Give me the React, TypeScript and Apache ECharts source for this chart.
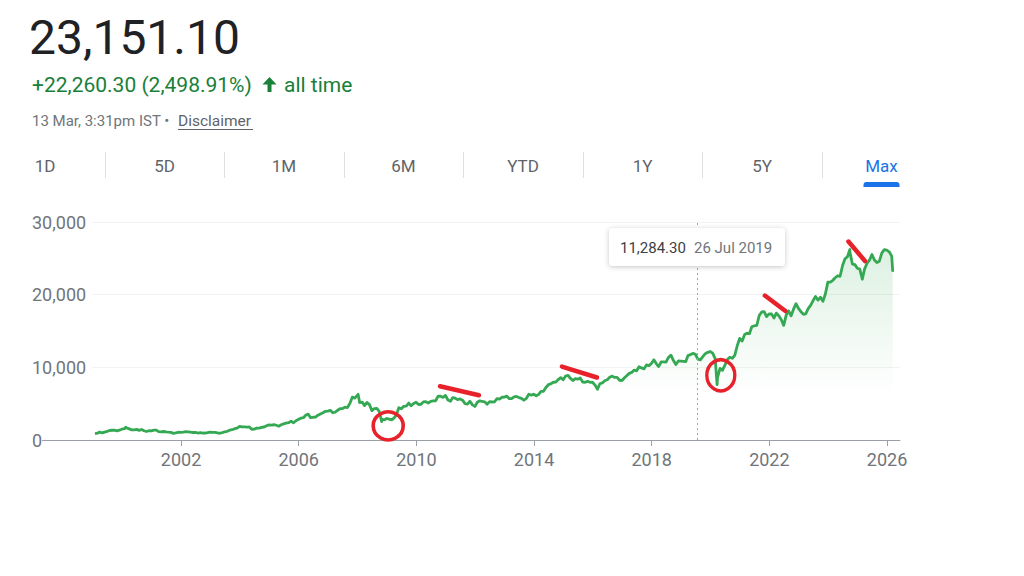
import React, { useEffect, useRef } from "react";
import * as echarts from "echarts";

// ---------- texts ----------
const headerPrice = "23,151.10";
const headerChange = "+22,260.30 (2,498.91%)";
const headerPeriod = "all time";
const headerStamp = "13 Mar, 3:31pm IST •";
const headerLink = "Disclaimer";
const rangeTabs = ["1D", "5D", "1M", "6M", "YTD", "1Y", "5Y", "Max"];
const activeTab = "Max";

// ---------- data (month-end closes, Jan 1999 .. Feb 2026) ----------
const firstYear = 1999;
const monthlyClose = [
  891, 950, 1080, 980, 1090, 1190, 1310, 1340, 1350, 1260, 1370, 1480, // 1999
  1550, 1650, 1530, 1400, 1380, 1470, 1330, 1450, 1270, 1170, 1270, 1260, // 2000
  1370, 1350, 1150, 1120, 1170, 1110, 1070, 1050, 910, 970, 1070, 1060, // 2001
  1080, 1140, 1130, 1080, 1030, 1060, 960, 1010, 960, 950, 1020, 1090, // 2002
  1040, 1060, 980, 930, 1010, 1130, 1190, 1350, 1420, 1550, 1620, 1880, // 2003
  1810, 1800, 1770, 1800, 1480, 1500, 1630, 1630, 1740, 1790, 1960, 2080, // 2004
  2060, 2100, 2030, 1900, 2090, 2220, 2310, 2380, 2600, 2370, 2650, 2840, // 2005
  3000, 3070, 3400, 3560, 3070, 3130, 3140, 3410, 3590, 3740, 3950, 3970, // 2006
  4080, 3750, 3820, 4090, 4300, 4320, 4530, 4460, 5020, 5900, 5760, 6140, // 2007
  5140, 5220, 4730, 5170, 4870, 4040, 4330, 4360, 3920, 2890, 2760, 2960, // 2008
  2870, 2760, 3020, 3470, 4450, 4290, 4640, 4660, 5080, 4710, 5030, 5200, // 2009
  4880, 4920, 5250, 5280, 5090, 5310, 5370, 5400, 6030, 6020, 5860, 6130, // 2010
  5500, 5330, 5830, 5750, 5560, 5650, 5480, 5000, 4940, 5330, 4830, 4620, // 2011
  5200, 5390, 5300, 5250, 4920, 5280, 5230, 5260, 5700, 5620, 5880, 5900, // 2012
  6030, 5690, 5680, 5930, 5990, 5840, 5740, 5470, 5740, 6300, 6180, 6300, // 2013
  6090, 6280, 6700, 6700, 7230, 7610, 7720, 7950, 7960, 8320, 8590, 8280, // 2014
  8810, 8900, 8490, 8180, 8430, 8370, 8530, 7970, 7950, 8070, 7940, 7950, // 2015
  7560, 6990, 7740, 7850, 8160, 8290, 8640, 8790, 8610, 8630, 8220, 8190, // 2016
  8560, 8880, 9170, 9300, 9620, 9520, 10080, 9920, 9790, 10340, 10230, 10530, // 2017
  11030, 10490, 10110, 10740, 10740, 10710, 11360, 11680, 10930, 10390, 10880, 10860, // 2018
  10830, 10790, 11620, 11750, 11920, 11790, 11120, 11020, 11470, 11880, 12060, 12170, // 2019
  11960, 11200, 8600, 9860, 9580, 10300, 11070, 11390, 11250, 11640, 12970, 13980, // 2020
  13630, 14530, 14690, 14630, 15580, 15720, 15760, 17130, 17620, 17670, 16980, 17350, // 2021
  17340, 16790, 17460, 17100, 16580, 15780, 17160, 17760, 17090, 18010, 18760, 18110, // 2022
  17660, 17300, 17360, 18070, 18530, 19190, 19750, 19250, 19640, 19080, 20130, 21730, // 2023
  21730, 21980, 22330, 22600, 22530, 24010, 24950, 25240, 25810, 24210, 24130, 23640, // 2024
  23510, 22120, 23520, 24330, 24750, 25520, 24770, 24430, 24610, 25720, 26200, 26130, // 2025
  25900, 25300, // 2026
];
const finalDate = "2026-03-13";
const finalClose = 23151.1;
const extremeDates = ["2000-02-14", "2008-01-08", "2008-10-27", "2020-03-23", "2024-09-27"];
const extremeValues = [1760, 6290, 2520, 7610, 26220];

// ---------- axes ----------
const yMin = 0;
const yMax = 30000;
const yStep = 10000;
const xTickYears = [2002, 2006, 2010, 2014, 2018, 2022, 2026];
const axisStart = "1998-12-22";
const axisEnd = "2026-06-11";

// ---------- hover read-out ----------
const hoverDate = "2019-07-26";
const hoverValueText = "11,284.30";
const hoverDateText = "26 Jul 2019";

// ---------- red hand-drawn annotations (data coordinates) ----------
const strokeStartDates = ["2010-10-21", "2014-12-13", "2021-11-06", "2024-09-09"];
const strokeStartValues = [7390, 10110, 19880, 27310];
const strokeEndDates = ["2012-02-17", "2016-02-21", "2022-07-19", "2025-04-02"];
const strokeEndValues = [6165, 8600, 17750, 24630];
const circleDates = ["2009-01-16", "2020-05-08"];
const circleValues = [1950, 8900];

const toTime = (s: string) => {
  const [y, m, d] = s.split("-").map(Number);
  return +new Date(y, m - 1, d);
};

const FONT = "Roboto, 'Noto Sans', sans-serif";
const RED = "#e8222b";
const GREEN = "#34a853";

export default function App() {
  const ref = useRef<HTMLDivElement>(null);

  useEffect(() => {
    if (!ref.current) return;
    const chart = echarts.init(ref.current, null, { renderer: "svg" });

    const points: [number, number][] = monthlyClose.map((v, i) => {
      const y = firstYear + Math.floor(i / 12);
      const m = (i % 12) + 1;
      return [toTime(`${y}-${String(m).padStart(2, "0")}-28`), v];
    });
    extremeDates.forEach((d, i) => points.push([toTime(d), extremeValues[i]]));
    points.push([toTime(finalDate), finalClose]);
    points.sort((a, b) => a[0] - b[0]);

    const xTickValues = xTickYears.map((y) => +new Date(y, 0, 1));

    const gridLeft = 92;
    const gridRight = 900;
    const gridTop = 222;
    const gridBottom = 440;

    const tabStart = 45;
    const tabGap = 119.5;

    const graphic: any[] = [
      {
        type: "text", x: 29, y: 37, z: 100,
        style: { text: headerPrice, font: `400 48px ${FONT}`, fill: "#202124", verticalAlign: "middle" },
      },
      {
        type: "text", x: 32, y: 85, z: 100,
        style: { text: headerChange, font: `400 21px ${FONT}`, fill: "#188038", verticalAlign: "middle" },
      },
      {
        type: "polygon", z: 100,
        shape: { points: [[269.5, 77], [262.5, 84.5], [267.5, 84.5], [267.5, 92], [271.5, 92], [271.5, 84.5], [276.5, 84.5]] },
        style: { fill: "#188038" },
      },
      {
        type: "text", x: 284, y: 85, z: 100,
        style: { text: headerPeriod, font: `400 21px ${FONT}`, fill: "#188038", verticalAlign: "middle" },
      },
      {
        type: "text", x: 32, y: 121, z: 100,
        style: { text: headerStamp, font: `400 15px ${FONT}`, fill: "#70757a", verticalAlign: "middle" },
      },
      {
        type: "text", x: 178, y: 121, z: 100,
        style: { text: headerLink, font: `400 15.5px ${FONT}`, fill: "#5f6368", verticalAlign: "middle" },
      },
      {
        type: "line", z: 100,
        shape: { x1: 178, y1: 129.5, x2: 253, y2: 129.5 },
        style: { stroke: "#5f6368", lineWidth: 1 },
      },
      {
        type: "line", z: 100,
        shape: { x1: 42, y1: gridBottom + 0.5, x2: gridLeft, y2: gridBottom + 0.5 },
        style: { stroke: "#9aa0a6", lineWidth: 1 },
      },
    ];

    rangeTabs.forEach((t, i) => {
      const cx = tabStart + i * tabGap;
      const active = t === activeTab;
      graphic.push({
        type: "text", x: cx, y: 166, z: 100,
        style: {
          text: t, font: `400 17px ${FONT}`, fill: active ? "#1a73e8" : "#5f6368",
          align: "center", verticalAlign: "middle",
        },
      });
      if (i > 0) {
        const sx = Math.round(cx - tabGap / 2) + 0.5;
        graphic.push({
          type: "line", z: 100,
          shape: { x1: sx, y1: 152, x2: sx, y2: 178 },
          style: { stroke: "#e0e0e0", lineWidth: 1 },
        });
      }
      if (active) {
        graphic.push({
          type: "rect", z: 100,
          shape: { x: cx - 18, y: 182, width: 36, height: 5, r: [3, 3, 0, 0] },
          style: { fill: "#1a73e8" },
        });
      }
    });

    graphic.push({
      type: "group", z: 200,
      children: [
        {
          type: "rect", z: 200,
          shape: { x: 609, y: 228, width: 176, height: 38, r: 4 },
          style: { fill: "#ffffff", shadowBlur: 5, shadowOffsetY: 1, shadowColor: "rgba(60,64,67,0.3)" },
        },
        {
          type: "text", x: 620, y: 247.5, z: 201,
          style: { text: hoverValueText, font: `400 15px ${FONT}`, fill: "#3c4043", verticalAlign: "middle" },
        },
        {
          type: "text", x: 694, y: 247.5, z: 201,
          style: { text: hoverDateText, font: `400 15px ${FONT}`, fill: "#70757a", verticalAlign: "middle" },
        },
      ],
    });

    const option: any = {
      animation: false,
      backgroundColor: "#ffffff",
      grid: { left: gridLeft, right: 1024 - gridRight, top: gridTop, bottom: 576 - gridBottom, containLabel: false },
      xAxis: {
        type: "value",
        min: toTime(axisStart),
        max: toTime(axisEnd),
        axisLine: { show: true, onZero: false, lineStyle: { color: "#9aa0a6", width: 1 } },
        axisTick: { show: true, customValues: xTickValues, length: 6, lineStyle: { color: "#9aa0a6", width: 1 } },
        axisLabel: {
          customValues: xTickValues,
          formatter: (v: number) => String(new Date(v).getFullYear()),
          color: "#70757a", fontSize: 18, fontFamily: FONT, margin: 10,
        },
        splitLine: { show: false },
      },
      yAxis: {
        type: "value",
        min: yMin, max: yMax, interval: yStep,
        axisLine: { show: false },
        axisTick: { show: false },
        axisLabel: {
          align: "left", margin: 60,
          formatter: (v: number) => v.toLocaleString("en-US"),
          color: "#70757a", fontSize: 18, fontFamily: FONT,
        },
        splitLine: { show: true, lineStyle: { color: "#f1f3f4", width: 1 } },
      },
      graphic,
      series: [
        {
          type: "line",
          data: points,
          showSymbol: false,
          symbol: "none",
          z: 3,
          lineStyle: { color: GREEN, width: 2.8, join: "round" },
          itemStyle: { color: GREEN },
          areaStyle: {
            origin: "start",
            color: new echarts.graphic.LinearGradient(0, gridTop, 0, 396, [
              { offset: 0, color: "rgba(52,168,83,0.28)" },
              { offset: 1, color: "rgba(52,168,83,0)" },
            ], true),
          },
          markLine: {
            silent: true,
            symbol: ["none", "none"],
            label: { show: false },
            lineStyle: { color: "#a0a4a8", type: [2, 3], width: 1 },
            data: [{ xAxis: toTime(hoverDate) }],
          },
        },
        {
          type: "line",
          data: [],
          silent: true,
          z: 5,
          markLine: {
            silent: true,
            symbol: ["none", "none"],
            label: { show: false },
            lineStyle: { color: RED, width: 4.5, type: "solid", cap: "round" },
            data: strokeStartDates.map((d, i) => [
              { coord: [toTime(d), strokeStartValues[i]] },
              { coord: [toTime(strokeEndDates[i]), strokeEndValues[i]] },
            ]),
          },
          markPoint: {
            silent: true,
            symbol: "circle",
            symbolSize: 29,
            label: { show: false },
            itemStyle: { color: "rgba(0,0,0,0)", borderColor: RED, borderWidth: 3.5 },
            data: circleDates.map((d, i) => ({
              coord: [toTime(d), circleValues[i]],
              symbolSize: i === 0 ? [30, 28] : [28, 31],
            })),
          },
        },
      ],
    };

    chart.setOption(option);
    return () => chart.dispose();
  }, []);

  return (
    <div
      ref={ref}
      style={{ position: "fixed", left: 0, top: 0, width: 1024, height: 576, background: "#fff" }}
    />
  );
}
